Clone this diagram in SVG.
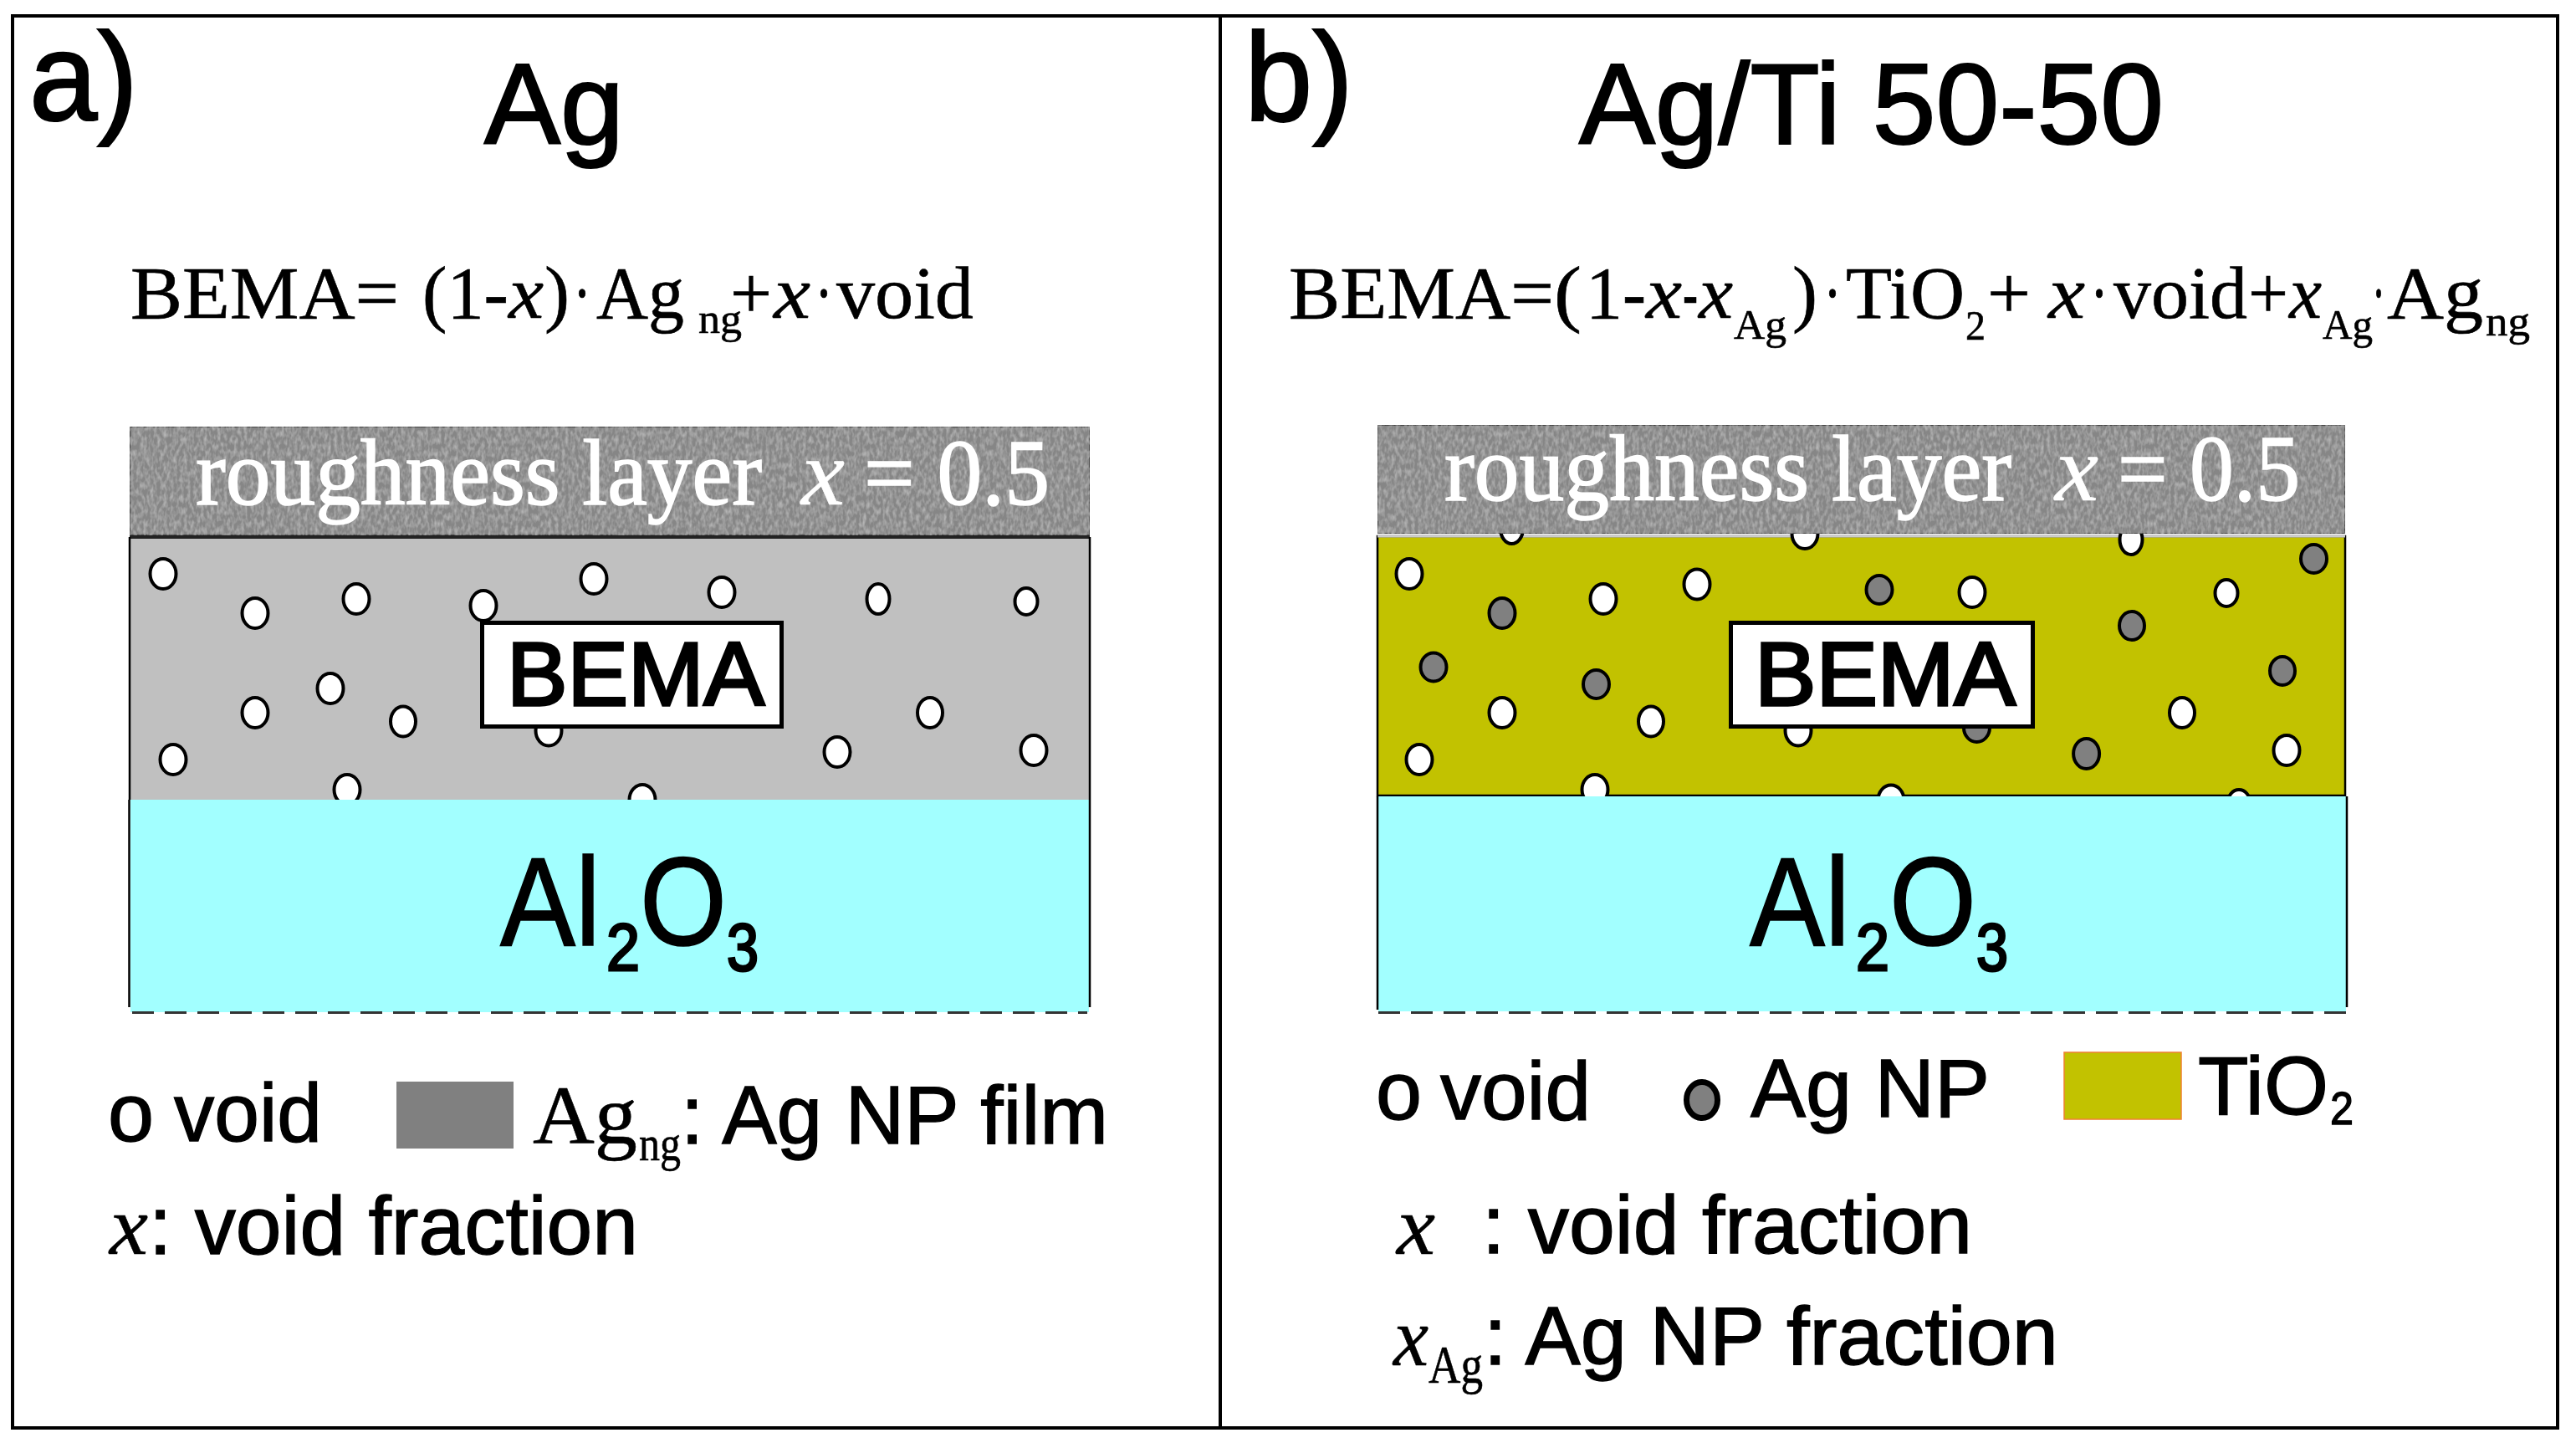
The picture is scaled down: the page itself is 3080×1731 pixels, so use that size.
<svg xmlns="http://www.w3.org/2000/svg" width="3080" height="1731" viewBox="0 0 3080 1731">
<style>
text{fill:#000;font-family:"Liberation Sans",Arial,sans-serif;white-space:pre;stroke:#000;stroke-width:1.4}
tspan{white-space:pre}
.s{font-family:"Liberation Serif","Times New Roman",serif;stroke-width:.6}
.i{font-family:"Liberation Serif","Times New Roman",serif;font-style:italic;stroke-width:.6}
.f{font-size:88px}.sub{font-size:50px}
.r{font-size:112px;stroke:#fff;stroke-width:1.6}.r,.r tspan{fill:#fff}
.t{font-size:138px;stroke-width:2.2}.p{font-size:150px;stroke-width:2.2}
.l{font-size:99px}
.al{font-size:150px;stroke-width:1.6}.al2{font-size:80px;stroke-width:3}
.bema{font-size:107px;stroke-width:3.4}
.v{fill:#fff;stroke:#000;stroke-width:4}
.n{fill:#808080;stroke:#000;stroke-width:4}
.frame{fill:none;stroke:#000;stroke-width:4}
.side{stroke:#000;stroke-width:2.5;fill:none}
.dash{stroke:#333;stroke-width:3;stroke-dasharray:26 13;fill:none}
.rough{fill:#868686;stroke:#444;stroke-width:2;filter:url(#noise)}
.box{fill:#fff;stroke:#000;stroke-width:5}
</style>
<defs>
<filter id="noise" x="0" y="0" width="100%" height="100%">
<feTurbulence type="fractalNoise" baseFrequency="0.25 0.13" numOctaves="2" seed="4" result="t"/>
<feColorMatrix in="t" type="matrix" values="0 0 0 0 0.68  0 0 0 0 0.68  0 0 0 0 0.68  1 0 0 0 -0.38" result="g"/>
<feMerge><feMergeNode in="SourceGraphic"/><feMergeNode in="g"/></feMerge>
</filter>
</defs>
<rect width="3080" height="1731" fill="#fff"/>

<g id="frame">
<rect class="frame" x="15" y="19" width="3043" height="1688"/>
<path class="frame" d="M1459 19V1707"/>
</g>

<g id="panel-a">
<text x="35" y="144" class="p" textLength="130" lengthAdjust="spacingAndGlyphs">a)</text>
<text x="579" y="172" class="t" textLength="167" lengthAdjust="spacingAndGlyphs">Ag</text>
<text class="s f" y="380"><tspan x="156" textLength="321" lengthAdjust="spacingAndGlyphs">BEMA=</tspan><tspan x="505" textLength="103" lengthAdjust="spacingAndGlyphs">(1-</tspan><tspan class="i" x="608" textLength="42" lengthAdjust="spacingAndGlyphs">x</tspan><tspan x="651" textLength="30" lengthAdjust="spacingAndGlyphs">)</tspan><tspan x="685" textLength="22" lengthAdjust="spacingAndGlyphs">·</tspan><tspan x="713" textLength="105" lengthAdjust="spacingAndGlyphs">Ag</tspan><tspan class="sub" x="835" y="398" textLength="52" lengthAdjust="spacingAndGlyphs">ng</tspan><tspan x="873" y="380" textLength="50" lengthAdjust="spacingAndGlyphs">+</tspan><tspan class="i" x="925" textLength="44" lengthAdjust="spacingAndGlyphs">x</tspan><tspan x="974" textLength="22" lengthAdjust="spacingAndGlyphs">·</tspan><tspan x="1000" textLength="164" lengthAdjust="spacingAndGlyphs">void</tspan></text>
</g>

<g id="layer-bema-a">
<rect x="155" y="643" width="1148" height="313" fill="#c0c0c0"/>
<path d="M155 642H1303" stroke="#222" stroke-width="4"/>
<g>
<ellipse class="v" cx="195" cy="686" rx="15.5" ry="18"/><ellipse class="v" cx="305" cy="733" rx="15.5" ry="18"/><ellipse class="v" cx="426" cy="716" rx="15.5" ry="18"/><ellipse class="v" cx="578" cy="724" rx="15.5" ry="18"/><ellipse class="v" cx="710" cy="692" rx="15.5" ry="18"/><ellipse class="v" cx="863" cy="708" rx="15.5" ry="18"/><ellipse class="v" cx="1050" cy="716" rx="13.5" ry="18"/><ellipse class="v" cx="1227" cy="719" rx="13.5" ry="16"/><ellipse class="v" cx="395" cy="823" rx="15.5" ry="18"/><ellipse class="v" cx="305" cy="852" rx="15.5" ry="18"/><ellipse class="v" cx="482" cy="862.5" rx="15" ry="18"/><ellipse class="v" cx="656" cy="873.5" rx="15.5" ry="18"/><ellipse class="v" cx="1112" cy="852" rx="15" ry="18"/><ellipse class="v" cx="1001" cy="899" rx="15.5" ry="18"/><ellipse class="v" cx="1236" cy="897" rx="15.5" ry="18"/><ellipse class="v" cx="207" cy="908" rx="15.5" ry="18"/><ellipse class="v" cx="415" cy="944" rx="15.5" ry="18"/><ellipse class="v" cx="768" cy="956" rx="15.5" ry="18"/>
</g>
<path class="side" d="M155 642V956M1303 642V956"/>
</g>

<g id="layer-rough-a">
<rect class="rough" x="155" y="510" width="1148" height="130"/>
<text class="s r" y="603"><tspan x="234" textLength="677" lengthAdjust="spacingAndGlyphs">roughness layer</tspan><tspan class="i" x="958" textLength="52" lengthAdjust="spacingAndGlyphs">x</tspan><tspan x="1033" textLength="222" lengthAdjust="spacingAndGlyphs">= 0.5</tspan></text>
</g>

<g id="layer-sub-a">
<rect x="156" y="956" width="1146" height="254" fill="#a2ffff"/>
<path class="side" d="M154.500 956V1204M1303 956V1204"/>
<path class="dash" d="M158 1210.500H1300"/>
<text x="598" y="1130" class="al"><tspan textLength="120" lengthAdjust="spacingAndGlyphs">Al</tspan><tspan class="al2" x="725" y="1160" textLength="40" lengthAdjust="spacingAndGlyphs">2</tspan><tspan x="765" y="1130" textLength="104" lengthAdjust="spacingAndGlyphs">O</tspan><tspan class="al2" x="869" y="1160" textLength="38" lengthAdjust="spacingAndGlyphs">3</tspan></text>
</g>

<g id="box-bema-a">
<rect class="box" x="576.500" y="744.500" width="358" height="124"/>
<text x="606" y="843" class="bema" textLength="308" lengthAdjust="spacingAndGlyphs">BEMA</text>
</g>

<g id="legend-a">
<text y="1363.500" class="l"><tspan x="129" textLength="55" lengthAdjust="spacingAndGlyphs">o</tspan> <tspan x="208" textLength="177" lengthAdjust="spacingAndGlyphs">void</tspan></text>
<rect x="474" y="1293" width="140" height="80" fill="#808080"/>
<text class="s" y="1367" font-size="100"><tspan x="637" textLength="125" lengthAdjust="spacingAndGlyphs">Ag</tspan><tspan x="764" y="1387" font-size="60" textLength="50" lengthAdjust="spacingAndGlyphs">ng</tspan></text>
<text x="814" y="1367" class="l" textLength="511" lengthAdjust="spacingAndGlyphs">: Ag NP film</text>
<text y="1499" class="l"><tspan class="i" x="131" font-size="100" textLength="46" lengthAdjust="spacingAndGlyphs">x</tspan><tspan x="178" textLength="585" lengthAdjust="spacingAndGlyphs">: void fraction</tspan></text>
</g>

<g id="panel-b">
<text x="1488" y="144" class="p" textLength="130" lengthAdjust="spacingAndGlyphs">b)</text>
<text x="1888" y="172" class="t" textLength="699" lengthAdjust="spacingAndGlyphs">Ag/Ti 50-50</text>
<text class="s f" y="380"><tspan x="1541" textLength="317" lengthAdjust="spacingAndGlyphs">BEMA=</tspan><tspan x="1858" textLength="33" lengthAdjust="spacingAndGlyphs">(</tspan><tspan x="1896" textLength="44" lengthAdjust="spacingAndGlyphs">1</tspan><tspan x="1940" textLength="28" lengthAdjust="spacingAndGlyphs">-</tspan><tspan class="i" x="1968" textLength="43" lengthAdjust="spacingAndGlyphs">x</tspan><tspan x="2012" textLength="18" lengthAdjust="spacingAndGlyphs">-</tspan><tspan class="i" x="2031" textLength="41" lengthAdjust="spacingAndGlyphs">x</tspan><tspan class="sub" x="2073" y="405" textLength="63" lengthAdjust="spacingAndGlyphs">Ag</tspan><tspan x="2143" y="380" textLength="30" lengthAdjust="spacingAndGlyphs">)</tspan><tspan x="2180" textLength="22" lengthAdjust="spacingAndGlyphs">·</tspan><tspan x="2207" textLength="142" lengthAdjust="spacingAndGlyphs">TiO</tspan><tspan class="sub" x="2350" y="406" textLength="24" lengthAdjust="spacingAndGlyphs">2</tspan><tspan x="2376" y="380" textLength="52" lengthAdjust="spacingAndGlyphs">+</tspan><tspan class="i" x="2449" textLength="44" lengthAdjust="spacingAndGlyphs">x</tspan><tspan x="2499" textLength="22" lengthAdjust="spacingAndGlyphs">·</tspan><tspan x="2527" textLength="160" lengthAdjust="spacingAndGlyphs">void</tspan><tspan x="2688" textLength="48" lengthAdjust="spacingAndGlyphs">+</tspan><tspan class="i" x="2737" textLength="39" lengthAdjust="spacingAndGlyphs">x</tspan><tspan class="sub" x="2777" y="405" textLength="60" lengthAdjust="spacingAndGlyphs">Ag</tspan><tspan x="2836" y="380" textLength="16" lengthAdjust="spacingAndGlyphs">·</tspan><tspan x="2854" textLength="115" lengthAdjust="spacingAndGlyphs">Ag</tspan><tspan class="sub" x="2972" y="401" textLength="53" lengthAdjust="spacingAndGlyphs">ng</tspan></text>
</g>

<g id="layer-bema-b">
<rect x="1647" y="641" width="1157" height="310" fill="#c2c200" stroke="#000" stroke-width="2.500"/>
<path d="M1647 641H2804" stroke="#ccc" stroke-width="3"/>
<g>
<ellipse class="v" cx="1685" cy="686" rx="15.500" ry="18"/><ellipse class="v" cx="1917" cy="716" rx="15.500" ry="18"/><ellipse class="v" cx="2029" cy="698.500" rx="15.500" ry="18"/><ellipse class="v" cx="2358" cy="708" rx="15.500" ry="18"/><ellipse class="v" cx="2662" cy="709" rx="13.500" ry="16"/><ellipse class="v" cx="1796" cy="852" rx="15.500" ry="18"/><ellipse class="v" cx="1974" cy="862.500" rx="15" ry="18"/><ellipse class="v" cx="2150" cy="873.500" rx="15.500" ry="18"/><ellipse class="v" cx="2609" cy="852" rx="15" ry="18"/><ellipse class="v" cx="2734" cy="897" rx="15.500" ry="18"/><ellipse class="v" cx="1697" cy="908" rx="15.500" ry="18"/><ellipse class="v" cx="1907" cy="944" rx="15.500" ry="18"/><ellipse class="v" cx="2261" cy="956.500" rx="15.500" ry="18"/><ellipse class="v" cx="2677" cy="960" rx="13.500" ry="16"/><ellipse class="v" cx="1807.500" cy="632" rx="13.500" ry="18"/><ellipse class="v" cx="2158" cy="638" rx="15.500" ry="18"/><ellipse class="v" cx="2548" cy="645" rx="13.500" ry="18"/>
<ellipse class="n" cx="1796" cy="733" rx="15.500" ry="18"/><ellipse class="n" cx="2247" cy="705" rx="15.500" ry="17"/><ellipse class="n" cx="2549" cy="748" rx="15" ry="17"/><ellipse class="n" cx="2766.500" cy="668" rx="15.500" ry="17"/><ellipse class="n" cx="1714" cy="797.500" rx="15.500" ry="17"/><ellipse class="n" cx="1908.500" cy="818" rx="15.500" ry="17"/><ellipse class="n" cx="2363.500" cy="870" rx="15.500" ry="17"/><ellipse class="n" cx="2494.600" cy="901" rx="15.500" ry="18"/><ellipse class="n" cx="2729" cy="802" rx="15" ry="17"/>
</g>
</g>

<g id="layer-rough-b">
<rect class="rough" x="1647" y="508" width="1157" height="130"/>
<text class="s r" y="598"><tspan x="1727" textLength="678" lengthAdjust="spacingAndGlyphs">roughness layer</tspan><tspan class="i" x="2457" textLength="52" lengthAdjust="spacingAndGlyphs">x</tspan><tspan x="2532" textLength="218" lengthAdjust="spacingAndGlyphs">= 0.5</tspan></text>
</g>

<g id="layer-sub-b">
<rect x="1648" y="952" width="1157" height="257" fill="#a2ffff"/>
<path class="side" d="M1647 952V1207M2806 952V1204"/>
<path class="dash" stroke-width="4" d="M1648 1210.500H2806"/>
<text x="2092" y="1130" class="al"><tspan textLength="120" lengthAdjust="spacingAndGlyphs">Al</tspan><tspan class="al2" x="2219" y="1160" textLength="40" lengthAdjust="spacingAndGlyphs">2</tspan><tspan x="2259" y="1130" textLength="104" lengthAdjust="spacingAndGlyphs">O</tspan><tspan class="al2" x="2363" y="1160" textLength="38" lengthAdjust="spacingAndGlyphs">3</tspan></text>
</g>

<g id="box-bema-b">
<rect class="box" x="2069.500" y="744.500" width="361" height="124"/>
<text x="2098" y="843" class="bema" textLength="312" lengthAdjust="spacingAndGlyphs">BEMA</text>
</g>

<g id="legend-b">
<text y="1338" class="l"><tspan x="1645" textLength="55" lengthAdjust="spacingAndGlyphs">o</tspan> <tspan x="1722" textLength="180" lengthAdjust="spacingAndGlyphs">void</tspan></text>
<ellipse cx="2035" cy="1315" rx="18.500" ry="21.500" fill="#808080" stroke="#000" stroke-width="7"/>
<text x="2093" y="1335" class="l" textLength="286" lengthAdjust="spacingAndGlyphs">Ag NP</text>
<rect x="2468" y="1258" width="140" height="80" fill="#c2c200" stroke="#f08030" stroke-width="1.500"/>
<text y="1332" class="l"><tspan x="2628" textLength="156" lengthAdjust="spacingAndGlyphs">TiO</tspan><tspan x="2786" y="1344" font-size="55" textLength="28" lengthAdjust="spacingAndGlyphs">2</tspan></text>
<text y="1499" class="l"><tspan class="i" x="1670" font-size="100" textLength="46" lengthAdjust="spacingAndGlyphs">x</tspan><tspan x="1772" y="1498" textLength="586" lengthAdjust="spacingAndGlyphs">: void fraction</tspan></text>
<text y="1632" class="l"><tspan class="i" x="1666" font-size="100" textLength="42" lengthAdjust="spacingAndGlyphs">x</tspan><tspan class="s" x="1708" y="1653" font-size="64" textLength="65" lengthAdjust="spacingAndGlyphs">Ag</tspan><tspan x="1774" y="1631" textLength="687" lengthAdjust="spacingAndGlyphs">: Ag NP fraction</tspan></text>
</g>
</svg>
